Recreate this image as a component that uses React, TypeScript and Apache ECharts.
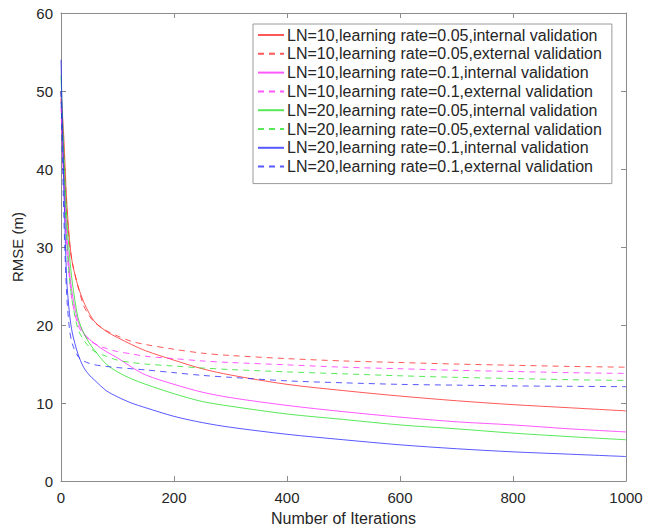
import React, { useEffect, useRef } from "react";
import * as echarts from "echarts";

const iterations = [0, 5, 10, 15, 20, 30, 40, 50, 60, 80, 100, 125, 150, 200, 250, 300, 400, 500, 600, 700, 800, 900, 1000];

const ln10lr005Int = [50, 44, 36, 31, 28, 25, 23, 21.5, 20.4, 19.2, 18.4, 17.5, 16.7, 15.5, 14.4, 13.6, 12.4, 11.6, 10.9, 10.3, 9.8, 9.4, 9.0];
const ln10lr005Ext = [49, 42, 35, 30.5, 28, 25, 22.5, 21.2, 20.3, 19.3, 18.6, 17.9, 17.5, 16.9, 16.4, 16.1, 15.7, 15.4, 15.2, 15.0, 14.85, 14.7, 14.6];
const ln10lr01Int = [50, 40, 32, 27, 24, 20.5, 19, 18.2, 17.6, 16.6, 15.8, 14.6, 13.6, 12.4, 11.4, 10.7, 9.7, 8.9, 8.2, 7.6, 7.2, 6.7, 6.3];
const ln10lr01Ext = [48, 38, 30, 26, 23, 20, 18.8, 18.1, 17.6, 17.0, 16.6, 16.3, 16.0, 15.7, 15.4, 15.2, 14.9, 14.6, 14.4, 14.2, 14.05, 13.9, 13.8];
const ln20lr005Int = [52, 42, 34, 29, 25.5, 21, 19, 17.7, 16.7, 15.0, 14.0, 13.1, 12.4, 11.2, 10.2, 9.6, 8.6, 7.9, 7.2, 6.7, 6.15, 5.7, 5.3];
const ln20lr005Ext = [50, 40, 31, 26, 23, 19.5, 18.1, 17.2, 16.6, 16.0, 15.5, 15.2, 15.0, 14.75, 14.5, 14.3, 14.0, 13.75, 13.5, 13.3, 13.15, 13.0, 12.9];
const ln20lr01Int = [54, 38, 26, 21.5, 19, 16.3, 14.6, 13.6, 12.9, 11.6, 10.8, 10.0, 9.4, 8.3, 7.5, 6.9, 6.0, 5.3, 4.65, 4.15, 3.75, 3.45, 3.15];
const ln20lr01Ext = [50, 34, 24, 19.5, 17.6, 16.0, 15.4, 15.1, 14.9, 14.7, 14.55, 14.4, 14.25, 13.9, 13.55, 13.3, 12.85, 12.6, 12.4, 12.3, 12.2, 12.15, 12.1];

const seriesNames = [
  "LN=10,learning rate=0.05,internal validation",
  "LN=10,learning rate=0.05,external validation",
  "LN=10,learning rate=0.1,internal validation",
  "LN=10,learning rate=0.1,external validation",
  "LN=20,learning rate=0.05,internal validation",
  "LN=20,learning rate=0.05,external validation",
  "LN=20,learning rate=0.1,internal validation",
  "LN=20,learning rate=0.1,external validation",
];
const seriesValues = [ln10lr005Int, ln10lr005Ext, ln10lr01Int, ln10lr01Ext, ln20lr005Int, ln20lr005Ext, ln20lr01Int, ln20lr01Ext];
const seriesColors = ["#ff2020", "#ff2020", "#ff20ff", "#ff20ff", "#20e020", "#20e020", "#2020ff", "#2020ff"];
const seriesDashed = [false, true, false, true, false, true, false, true];

const xTicks = [0, 200, 400, 600, 800, 1000];
const yTicks = [0, 10, 20, 30, 40, 50, 60];

export default function App() {
  const ref = useRef<HTMLDivElement>(null);
  useEffect(() => {
    if (!ref.current) return;
    document.body.style.margin = "0";
    document.body.style.overflow = "hidden";
    const chart = echarts.init(ref.current, undefined, { renderer: "svg" });
    const axisColor = "#8c8c8c";
    const textColor = "#262626";
    const font = "Liberation Sans, Arial, sans-serif";
    const baseAxis = {
      type: "value" as const,
      axisLine: { show: true, onZero: false, lineStyle: { color: axisColor, width: 1 } },
      axisTick: { show: true, inside: true, length: 5, lineStyle: { color: axisColor } },
      splitLine: { show: false },
    };
    chart.setOption({
      animation: false,
      backgroundColor: "#ffffff",
      textStyle: { fontFamily: font },
      grid: { left: 61, right: 31, top: 13, bottom: 48, containLabel: false },
      legend: {
        orient: "vertical",
        left: 253,
        top: 24,
        itemWidth: 26,
        itemHeight: 14,
        itemGap: 2.8,
        padding: [3, 10, 9, 4],
        borderColor: "#9a9a9a",
        borderWidth: 1,
        backgroundColor: "#ffffff",
        itemStyle: { opacity: 0 },
        textStyle: { fontSize: 16, lineHeight: 16, color: textColor, fontFamily: font, padding: [0, 0, 0, -2] },
        data: seriesNames,
      },
      xAxis: [
        {
          ...baseAxis,
          min: 0,
          max: 1000,
          interval: 200,
          position: "bottom",
          name: "Number of Iterations",
          nameLocation: "middle",
          nameGap: 27,
          nameTextStyle: { fontSize: 16, color: textColor, fontFamily: font },
          axisLabel: { fontSize: 15, color: textColor, margin: 9, formatter: (v: number) => (xTicks.includes(v) ? String(v) : "") },
        },
        {
          ...baseAxis,
          min: 0,
          max: 1000,
          interval: 200,
          position: "top",
          axisLabel: { show: false },
        },
      ],
      yAxis: [
        {
          ...baseAxis,
          min: 0,
          max: 60,
          interval: 10,
          position: "left",
          name: "RMSE (m)",
          nameLocation: "middle",
          nameGap: 26,
          nameTextStyle: { fontSize: 15, color: textColor, fontFamily: font },
          axisLabel: { fontSize: 15, color: textColor, margin: 8, formatter: (v: number) => (yTicks.includes(v) ? String(v) : "") },
        },
        {
          ...baseAxis,
          min: 0,
          max: 60,
          interval: 10,
          position: "right",
          axisLabel: { show: false },
        },
      ],
      series: seriesNames.map((name, i) => ({
        name,
        type: "line",
        xAxisIndex: 0,
        yAxisIndex: 0,
        smooth: 0.3,
        symbol: "none",
        data: iterations.map((it, j) => [it, seriesValues[i][j]]),
        itemStyle: { color: seriesColors[i] },
        lineStyle: {
          color: seriesColors[i],
          width: 1,
          opacity: 0.75,
          type: seriesDashed[i] ? [6, 5] : "solid",
        },
      })),
    });
    return () => chart.dispose();
  }, []);
  return <div ref={ref} style={{ position: "absolute", left: 0, top: 0, width: 657, height: 531 }} />;
}
